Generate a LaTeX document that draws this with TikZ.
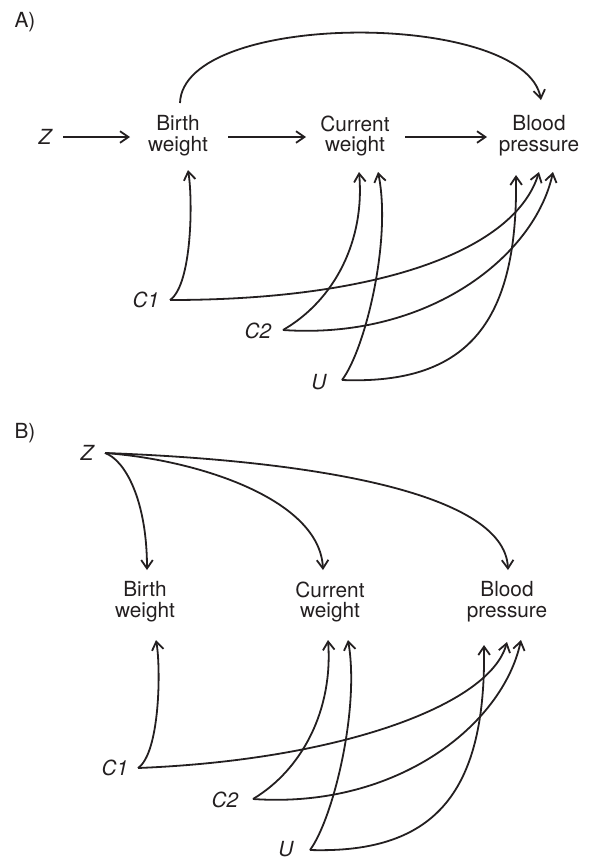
\documentclass[tikz,border=0pt]{standalone}
\usepackage{fontspec}
\setmainfont{TeX Gyre Heros}
\usetikzlibrary{arrows.meta,calc}
\definecolor{ink}{RGB}{35,31,32}
\begin{document}
\begin{tikzpicture}[x=0.5pt,y=-0.5pt,
  lab/.style={font=\fontsize{10.4}{10.4}\selectfont, text=ink, inner sep=0pt, align=center},
  var/.style={lab, font=\fontsize{10.4}{10.4}\selectfont\itshape},
  arr/.style={draw=ink, line width=0.9pt, -{Straight Barb[length=4.2pt,width=5.8pt]}}]
\useasboundingbox (0,0) rectangle (590,859);

% ---------- Panel A ----------
\node[lab] (pA) at (25,22) {A)};
\node[var] (zA) at (45,137) {Z};
\node[lab] (bwA) at (178,136) {Birth\\weight};
\node[lab] (cwA) at (355,136) {Current\\weight};
\node[lab] (bpA) at (539,136) {Blood\\pressure};
\node[var] (c1A) at (146,300) {C1};
\node[var] (c2A) at (258,331) {C2};
\node[var] (uA) at (319,382) {U};

\draw[arr] ($(zA)+(18,0)$) -- ($(bwA)+(-48,1)$);
\draw[arr] ($(bwA)+(50,1)$) -- ($(cwA)+(-49,1)$);
\draw[arr] ($(cwA)+(50,1)$) -- ($(bpA)+(-52,1)$);
\draw[arr] ($(bwA)+(2,-33)$) .. controls (183,10) and (525,10) .. ($(bpA)+(2,-36)$);

\draw[arr] ($(c1A)+(24,0)$) .. controls (192,285) and (193,200) .. ($(bwA)+(10,34)$);
\draw[arr] ($(c1A)+(24,0)$) .. controls (380,300) and (515,250) .. ($(bpA)+(0,36)$);
\draw[arr] ($(c2A)+(25,-1)$) .. controls (335,300) and (365,240) .. ($(cwA)+(4,36)$);
\draw[arr] ($(c2A)+(25,-1)$) .. controls (430,340) and (535,255) .. ($(bpA)+(14,36)$);
\draw[arr] ($(uA)+(23,-2)$) .. controls (365,350) and (392,240) .. ($(cwA)+(23,36)$);
\draw[arr] ($(uA)+(23,-2)$) .. controls (470,385) and (518,320) .. ($(bpA)+(-23,39)$);

% ---------- Panel B ----------
\node[lab] (pB) at (25,433) {B)};
\node[var] (zB) at (87,453) {Z};
\node[lab] (bwB) at (145,602) {Birth\\weight};
\node[lab] (cwB) at (330,602) {Current\\weight};
\node[lab] (bpB) at (507,602) {Blood\\pressure};
\node[var] (c1B) at (115,768) {C1};
\node[var] (c2B) at (225,800) {C2};
\node[var] (uB) at (286,849) {U};

\draw[arr] ($(zB)+(18,0)$) .. controls (125,460) and (147,500) .. ($(bwB)+(2,-32)$);
\draw[arr] ($(zB)+(18,0)$) .. controls (200,460) and (320,500) .. ($(cwB)+(-7,-32)$);
\draw[arr] ($(zB)+(18,0)$) .. controls (300,460) and (505,490) .. ($(bpB)+(1,-32)$);

\draw[arr] ($(c1B)+(23,0)$) .. controls (160,753) and (161,668) .. ($(bwB)+(11,38)$);
\draw[arr] ($(c1B)+(23,0)$) .. controls (340,760) and (490,705) .. ($(bpB)+(0,40)$);
\draw[arr] ($(c2B)+(28,-1)$) .. controls (303,769) and (333,709) .. ($(cwB)+(-2,38)$);
\draw[arr] ($(c2B)+(28,-1)$) .. controls (398,809) and (503,724) .. ($(bpB)+(14,38)$);
\draw[arr] ($(uB)+(24,1)$) .. controls (333,819) and (360,709) .. ($(cwB)+(18,38)$);
\draw[arr] ($(uB)+(24,1)$) .. controls (438,854) and (486,789) .. ($(bpB)+(-23,43)$);
\end{tikzpicture}
\end{document}
